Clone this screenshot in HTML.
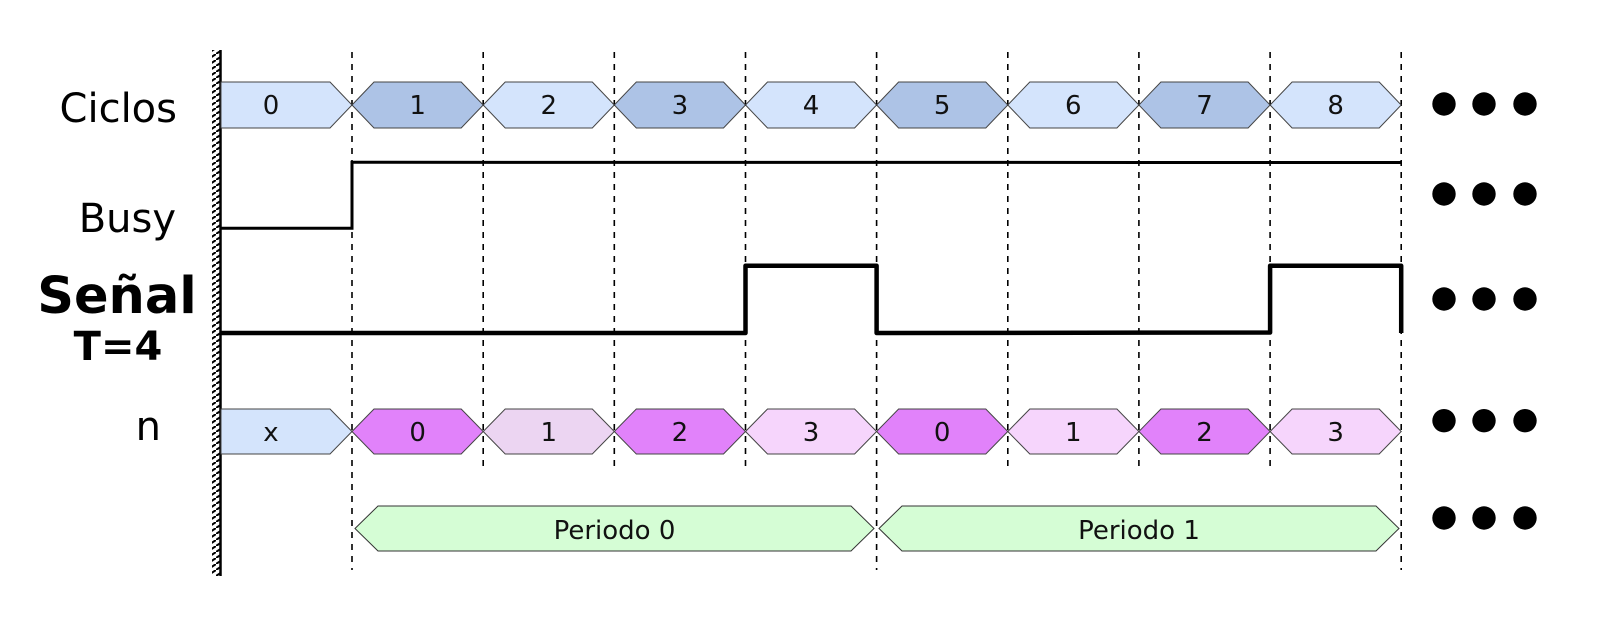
<!DOCTYPE html>
<html><head><meta charset="utf-8"><style>
html,body{margin:0;padding:0;background:#fff;}
svg{display:block;}
text{font-family:"DejaVu Sans","Liberation Sans",sans-serif;}
</style></head><body>
<svg width="1624" height="621" viewBox="0 0 1624 621" xmlns="http://www.w3.org/2000/svg">
<defs>
<pattern id="h" width="9" height="6" patternUnits="userSpaceOnUse">
<line x1="0" y1="6" x2="9" y2="0" stroke="#000" stroke-width="2"/>
</pattern>
</defs>
<rect x="212" y="50" width="8" height="526" fill="url(#h)"/>
<line x1="220.5" y1="50" x2="220.5" y2="576" stroke="#000" stroke-width="2.5"/>

<g stroke="#000" stroke-width="1.6" stroke-dasharray="6,6">
<line x1="352" y1="52" x2="352" y2="570"/>
<line x1="483.2" y1="52" x2="483.2" y2="468"/>
<line x1="614.3" y1="52" x2="614.3" y2="468"/>
<line x1="745.5" y1="52" x2="745.5" y2="468"/>
<line x1="876.6" y1="52" x2="876.6" y2="570"/>
<line x1="1007.8" y1="52" x2="1007.8" y2="468"/>
<line x1="1138.9" y1="52" x2="1138.9" y2="468"/>
<line x1="1270.1" y1="52" x2="1270.1" y2="468"/>
<line x1="1401.2" y1="52" x2="1401.2" y2="570"/>
</g>

<g stroke="#444" stroke-width="1">
<polygon fill="#d4e4fc" points="221,82 330,82 352,105 330,128 221,128"/>
<polygon fill="#adc3e6" points="352,105 374,82 461.2,82 483.2,105 461.2,128 374,128"/>
<polygon fill="#d4e4fc" points="483.2,105 505.2,82 592.3,82 614.3,105 592.3,128 505.2,128"/>
<polygon fill="#adc3e6" points="614.3,105 636.3,82 723.5,82 745.5,105 723.5,128 636.3,128"/>
<polygon fill="#d4e4fc" points="745.5,105 767.5,82 854.6,82 876.6,105 854.6,128 767.5,128"/>
<polygon fill="#adc3e6" points="876.6,105 898.6,82 985.8,82 1007.8,105 985.8,128 898.6,128"/>
<polygon fill="#d4e4fc" points="1007.8,105 1029.8,82 1116.9,82 1138.9,105 1116.9,128 1029.8,128"/>
<polygon fill="#adc3e6" points="1138.9,105 1160.9,82 1248.1,82 1270.1,105 1248.1,128 1160.9,128"/>
<polygon fill="#d4e4fc" points="1270.1,105 1292.1,82 1379.2,82 1401.2,105 1379.2,128 1292.1,128"/>
</g>
<g font-size="26" text-anchor="middle" fill="#111">
<text x="271" y="114">0</text><text x="417.6" y="114">1</text><text x="548.8" y="114">2</text>
<text x="679.9" y="114">3</text><text x="811" y="114">4</text><text x="942.2" y="114">5</text>
<text x="1073.3" y="114">6</text><text x="1204.5" y="114">7</text><text x="1335.6" y="114">8</text>
</g>

<g transform="translate(0,327)" stroke="#444" stroke-width="1">
<polygon fill="#d4e4fc" points="221,82 330,82 352,104.5 330,127 221,127"/>
<polygon fill="#e182fa" points="352,104.5 374,82 461.2,82 483.2,104.5 461.2,127 374,127"/>
<polygon fill="#ecd5f2" points="483.2,104.5 505.2,82 592.3,82 614.3,104.5 592.3,127 505.2,127"/>
<polygon fill="#e182fa" points="614.3,104.5 636.3,82 723.5,82 745.5,104.5 723.5,127 636.3,127"/>
<polygon fill="#f6d5fc" points="745.5,104.5 767.5,82 854.6,82 876.6,104.5 854.6,127 767.5,127"/>
<polygon fill="#e182fa" points="876.6,104.5 898.6,82 985.8,82 1007.8,104.5 985.8,127 898.6,127"/>
<polygon fill="#f6d5fc" points="1007.8,104.5 1029.8,82 1116.9,82 1138.9,104.5 1116.9,127 1029.8,127"/>
<polygon fill="#e182fa" points="1138.9,104.5 1160.9,82 1248.1,82 1270.1,104.5 1248.1,127 1160.9,127"/>
<polygon fill="#f6d5fc" points="1270.1,104.5 1292.1,82 1379.2,82 1401.2,104.5 1379.2,127 1292.1,127"/>
</g>
<g font-size="26" text-anchor="middle" fill="#111">
<text x="271" y="441">x</text><text x="417.6" y="441">0</text><text x="548.8" y="441">1</text>
<text x="679.9" y="441">2</text><text x="811" y="441">3</text><text x="942.2" y="441">0</text>
<text x="1073.3" y="441">1</text><text x="1204.5" y="441">2</text><text x="1335.6" y="441">3</text>
</g>

<g stroke="#333" stroke-width="1" fill="#d5fdd5">
<polygon points="355,528.5 378,506 851,506 874,528.5 851,551 378,551"/>
<polygon points="879,528.5 902,506 1376,506 1399,528.5 1376,551 902,551"/>
</g>
<g font-size="26" text-anchor="middle" fill="#111">
<text x="614.5" y="539">Periodo 0</text>
<text x="1139" y="539">Periodo 1</text>
</g>

<polyline points="221,228.3 352,228.3 352,162.3 1401,162.5" fill="none" stroke="#000" stroke-width="3"/>
<polyline points="221,333 745.5,333 745.5,265.7 876.6,265.7 876.6,333 1270.1,332.5 1270.1,265.7 1401.2,265.7 1401.2,333" fill="none" stroke="#000" stroke-width="4.5" stroke-linejoin="round"/>

<g fill="#000">
<circle cx="1444" cy="104" r="11.7"/><circle cx="1484" cy="104" r="11.7"/><circle cx="1525" cy="104" r="11.7"/>
<circle cx="1444" cy="194" r="11.7"/><circle cx="1484" cy="194" r="11.7"/><circle cx="1525" cy="194" r="11.7"/>
<circle cx="1444" cy="299" r="11.7"/><circle cx="1484" cy="299" r="11.7"/><circle cx="1525" cy="299" r="11.7"/>
<circle cx="1444" cy="420.7" r="11.7"/><circle cx="1484" cy="420.7" r="11.7"/><circle cx="1525" cy="420.7" r="11.7"/>
<circle cx="1444" cy="518" r="11.7"/><circle cx="1484" cy="518" r="11.7"/><circle cx="1525" cy="518" r="11.7"/>
</g>

<g fill="#000" text-anchor="end">
<text x="177" y="122" font-size="40">Ciclos</text>
<text x="176" y="232" font-size="40">Busy</text>
<text x="161" y="440" font-size="40">n</text>
</g>
<g fill="#000" text-anchor="middle" font-weight="bold">
<text x="117" y="313" font-size="51">Señal</text>
<text x="118" y="360" font-size="40">T=4</text>
</g>
</svg>
</body></html>
